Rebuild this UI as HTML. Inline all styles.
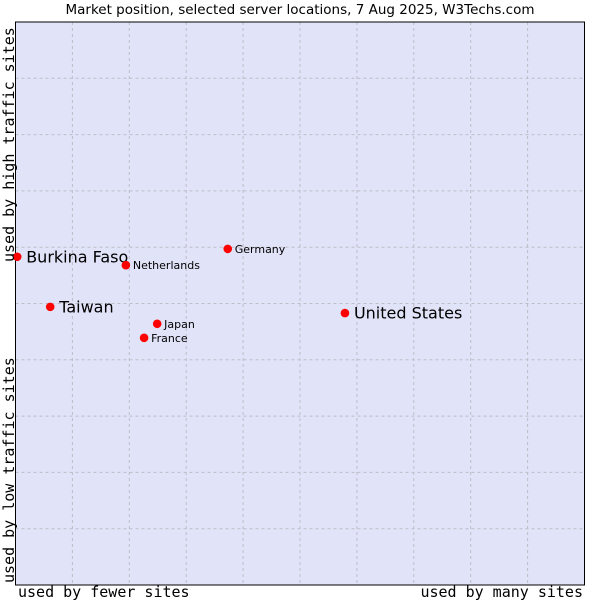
<!DOCTYPE html>
<html><head><meta charset="utf-8"><style>
body{margin:0;background:#fff;}
svg{display:block;}
</style></head><body>
<svg id="chart" width="600" height="600" xmlns="http://www.w3.org/2000/svg">
<rect width="600" height="600" fill="#fff"/>
<text x="300" y="14" text-anchor="middle" font-family="DejaVu Sans, sans-serif" font-size="13.5" fill="#000">Market position, selected server locations, 7 Aug 2025, W3Techs.com</text>
<rect x="15.5" y="22" width="569" height="563" fill="#e1e3f8"/>
<g id="grid"></g>
<rect x="15.5" y="22" width="569" height="563" fill="none" stroke="#000" stroke-width="1"/>
<g id="points"></g>
<text x="18" y="597" font-family="DejaVu Sans Mono, monospace" font-size="15">used by fewer sites</text>
<text x="583" y="597" text-anchor="end" font-family="DejaVu Sans Mono, monospace" font-size="15">used by many sites</text>
<text transform="translate(14,583) rotate(-90)" font-family="DejaVu Sans Mono, monospace" font-size="15">used by low traffic sites</text>
<text transform="translate(14,262) rotate(-90)" font-family="DejaVu Sans Mono, monospace" font-size="15">used by high traffic sites</text>
</svg>
<script>
const names=["Burkina Faso","Netherlands","Germany","Taiwan","United States","Japan","France"];
const xVals=[0.03,1.94,3.73,0.61,5.79,2.49,2.26];
const yVals=[5.83,5.68,5.97,4.94,4.83,4.64,4.39];
const big=[true,false,false,true,true,false,false];
const NS="http://www.w3.org/2000/svg";
const X0=15.5,W=569,Y0=22,H=563;
function sx(v){return X0+v/10*W;}
function sy(v){return Y0+H-v/10*H;}
const grid=document.getElementById('grid');
for(let i=1;i<10;i++){
  let l=document.createElementNS(NS,'line');
  l.setAttribute('x1',sx(i));l.setAttribute('x2',sx(i));l.setAttribute('y1',Y0);l.setAttribute('y2',Y0+H);
  l.setAttribute('stroke','#bdbdc8');l.setAttribute('stroke-dasharray','3,3');
  
  
  grid.appendChild(l);
  let m=document.createElementNS(NS,'line');
  m.setAttribute('y1',sy(i));m.setAttribute('y2',sy(i));m.setAttribute('x1',X0);m.setAttribute('x2',X0+W);
  m.setAttribute('stroke','#bdbdc8');m.setAttribute('stroke-dasharray','3,3');
  
  
  grid.appendChild(m);
}
const pts=document.getElementById('points');
names.forEach((n,i)=>{
  const x=sx(xVals[i]),y=sy(yVals[i]);
  const p=document.createElementNS(NS,'circle');
  p.setAttribute('cx',x);p.setAttribute('cy',y);p.setAttribute('r',4.3);
  p.setAttribute('fill','#ff0000');
  
  
  pts.appendChild(p);
  const t=document.createElementNS(NS,'text');
  t.setAttribute('x',x+(big[i]?9:7));
  t.setAttribute('y',y+(big[i]?5.5:4));
  t.setAttribute('font-family','DejaVu Sans, sans-serif');
  t.setAttribute('font-size',big[i]?16:11);
  t.textContent=n;
  
  
  pts.appendChild(t);
});
</script>
</body></html>
